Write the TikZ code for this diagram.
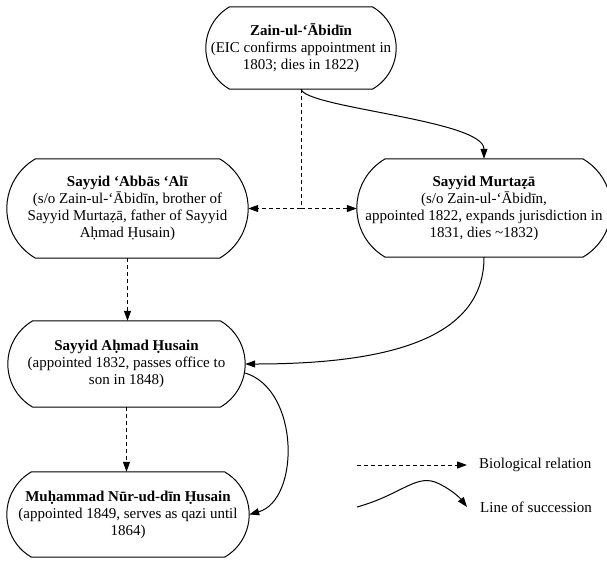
\documentclass[tikz,border=0pt]{standalone}
\usepackage{fontspec}
\setmainfont{Liberation Serif}
\usetikzlibrary{calc,arrows.meta}
\newcommand\pillshape[1]{%
  \draw[line width=1pt] let \p1=(#1.north west), \p2=(#1.south east),
    \n1={(\y1-\y2)/2}, \n2={\n1/sin(60)}, \n3={\n2/2} in
    (\x1+\n3,\y1) -- (\x2-\n3,\y1) arc[start angle=60,end angle=-60,radius=\n2]
    -- (\x1+\n3,\y2) arc[start angle=240,end angle=120,radius=\n2] -- cycle;}
\begin{document}
\begin{tikzpicture}[x=1pt,y=-1pt,
  person/.style={draw=none, rectangle, align=center, inner sep=0pt,
     font=\fontsize{15}{17}\selectfont},
  bio/.style={line width=1pt, dash pattern=on 4pt off 3pt, -{Triangle[length=10pt,width=7pt]}},
  succ/.style={line width=1pt, -{Triangle[length=10pt,width=7pt]}},
  lbl/.style={anchor=west, inner sep=0pt, font=\fontsize{15}{17}\selectfont}]
\useasboundingbox (0,0) rectangle (607,560);
\node[person, minimum width=190pt, minimum height=82pt] (zain) at (301,48)
  {\textbf{Zain-ul-‘Ābidīn}\\(EIC confirms appointment in\\1803; dies in 1822)};
\node[person, minimum width=241pt, minimum height=99pt] (abbas) at (127.5,208.5)
  {\textbf{Sayyid ‘Abbās ‘Alī}\\(s/o Zain-ul-‘Ābidīn, brother of\\Sayyid Murtaẓā, father of Sayyid\\Aḥmad Ḥusain)};
\node[person, minimum width=254pt, minimum height=98pt] (murtaza) at (484,208)
  {\textbf{Sayyid Murtaẓā}\\(s/o Zain-ul-‘Ābidīn,\\appointed 1822, expands jurisdiction in\\1831, dies \textasciitilde1832)};
\node[person, minimum width=237pt, minimum height=86pt] (ahmad) at (126.5,364)
  {\textbf{Sayyid Aḥmad Ḥusain}\\(appointed 1832, passes office to\\son in 1848)};
\node[person, minimum width=242pt, minimum height=85pt] (nur) at (128,514.5)
  {\textbf{Muḥammad Nūr-ud-dīn Ḥusain}\\(appointed 1849, serves as qazi until\\1864)};
\pillshape{zain}
\pillshape{abbas}
\pillshape{murtaza}
\pillshape{ahmad}
\pillshape{nur}
% biological relations
\coordinate (split) at (zain.south |- abbas.east);
\draw[bio] (zain.south) -- (split) -- (abbas.east);
\draw[bio] (split) -- (split -| murtaza.west);
\draw[bio] (abbas.south) -- (abbas.south |- ahmad.north);
\draw[bio] (ahmad.south) -- (ahmad.south |- nur.north);
% succession
\draw[succ] (zain.south) .. controls (306,108) and (484,120) .. (murtaza.north);
\draw[succ] (murtaza.south) .. controls (484,338) and (390,364) .. (ahmad.east);
\draw[succ] ([yshift=-9pt]ahmad.east) .. controls (300,390) and (300,500) .. (nur.east);
% legend
\coordinate (b1) at (357,465);
\coordinate (b2) at (467,465);
\coordinate (s1) at (357,507);
\coordinate (s2) at (467,507);
\draw[bio] (b1) -- (b2);
\draw[succ] (s1) .. controls (400,495) and (415,475) .. (435,482) .. controls (450,488) and (460,498) .. (s2);
\node[lbl] (lb) at (479,465) {Biological relation};
\node[lbl] (ls) at (480,507) {Line of succession};
\end{tikzpicture}
\end{document}
